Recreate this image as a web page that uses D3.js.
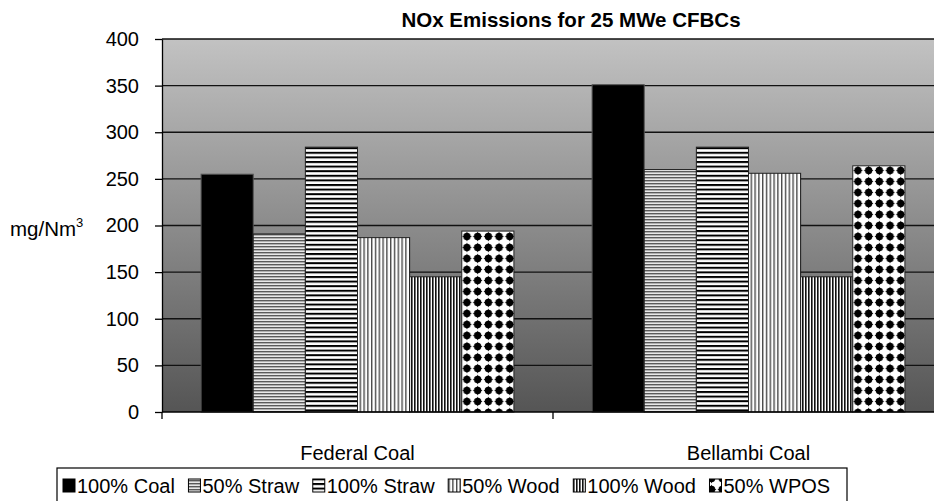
<!DOCTYPE html>
<html><head><meta charset="utf-8">
<script src="https://cdn.jsdelivr.net/npm/d3@7"></script>
<style>body{margin:0;background:#fff;}svg{display:block;font-family:"Liberation Sans",Arial,sans-serif;}</style>
</head><body>
<svg id="chart" width="934" height="501"></svg>
<script>
const categories = ["Federal Coal", "Bellambi Coal"];
const seriesNames = ["100% Coal", "50% Straw", "100% Straw", "50% Wood", "100% Wood", "50% WPOS"];
const federalValues = [255, 191, 284, 187, 145, 194];
const bellambiValues = [351, 260, 284, 256, 145, 264];
const yTicks = [0, 50, 100, 150, 200, 250, 300, 350, 400];
const titleText = "NOx Emissions for 25 MWe CFBCs";

const valuesByCategory = [federalValues, bellambiValues];
const svg = d3.select("#chart");
const margin = {left: 162, right: 944, top: 39, bottom: 412};

const defs = svg.append("defs");
const grad = defs.append("linearGradient").attr("id","bg").attr("x1",0).attr("y1",0).attr("x2",0).attr("y2",1);
grad.append("stop").attr("offset","0%").attr("stop-color","#c2c2c2");
grad.append("stop").attr("offset","100%").attr("stop-color","#555555");

function pat(id, w, h, bg, draw){
  const p = defs.append("pattern").attr("id",id).attr("patternUnits","userSpaceOnUse").attr("width",w).attr("height",h);
  p.append("rect").attr("width",w).attr("height",h).attr("fill",bg);
  if (draw) draw(p);
}
pat("p1", 4, 4, "#000");
pat("p2", 4, 3, "#e8e8e8", p => p.append("rect").attr("y",0).attr("width",4).attr("height",1.4).attr("fill","#5a5a5a"));
pat("p3", 4, 4.6, "#fff", p => p.append("rect").attr("y",0).attr("width",4).attr("height",2).attr("fill","#000"));
pat("p4", 3.8, 4, "#fff", p => p.append("rect").attr("x",0).attr("width",1.4).attr("height",4).attr("fill","#4a4a4a"));
pat("p5", 3, 4, "#fff", p => p.append("rect").attr("x",0).attr("width",1.6).attr("height",4).attr("fill","#111"));
pat("p6", 10.7, 11, "#fff", p => {
  p.append("path").attr("d","M5.35,0.4 Q6.5,4.3 10.2,5.5 Q6.5,6.7 5.35,10.6 Q4.2,6.7 0.5,5.5 Q4.2,4.3 5.35,0.4Z").attr("fill","#000");
  p.append("circle").attr("cx",5.35).attr("cy",5.5).attr("r",3.7).attr("fill","#000");
});
const fills = ["url(#p1)","url(#p2)","url(#p3)","url(#p4)","url(#p5)","url(#p6)"];

const y = d3.scaleLinear().domain([0, 400]).range([margin.bottom, margin.top]);
const x0 = d3.scaleBand().domain(categories).range([margin.left, margin.right]).padding(0);
const x1 = d3.scaleBand().domain(seriesNames).range([0, x0.bandwidth()]).paddingInner(0).paddingOuter(0.75);

svg.append("rect").attr("x", margin.left).attr("y", margin.top)
  .attr("width", margin.right - margin.left).attr("height", margin.bottom - margin.top)
  .attr("fill","url(#bg)");

svg.append("g").selectAll("line").data(yTicks.filter(d=>d>0)).join("line")
  .attr("x1", margin.left).attr("x2", margin.right)
  .attr("y1", d=>y(d)).attr("y2", d=>y(d))
  .attr("stroke","#111").attr("stroke-width",1.3);

const groups = svg.append("g").selectAll("g").data(categories).join("g")
  .attr("transform", d=>`translate(${x0(d)},0)`);
groups.selectAll("rect").data((c,i)=>seriesNames.map((s,j)=>({s, j, v: valuesByCategory[i][j]}))).join("rect")
  .attr("x", d=>x1(d.s)).attr("width", x1.bandwidth())
  .attr("y", d=>y(d.v)).attr("height", d=>y(0)-y(d.v))
  .attr("fill", d=>fills[d.j])
  .attr("stroke", d=>d.j===0 ? "#555" : "#222").attr("stroke-width",1);

const yAxis = svg.append("g").attr("transform",`translate(${margin.left},0)`)
  .call(d3.axisLeft(y).tickValues(yTicks).tickSize(7).tickPadding(16).tickSizeOuter(0));
yAxis.select(".domain").attr("stroke","#000").attr("stroke-width",1.3);
yAxis.selectAll(".tick line").attr("stroke","#000").attr("stroke-width",1.3);
yAxis.selectAll(".tick text").attr("font-size","20px").attr("fill","#000").attr("font-family","Liberation Sans, Arial, sans-serif");

const xAxisG = svg.append("g").attr("transform",`translate(0,${margin.bottom})`);
xAxisG.append("line").attr("x1",margin.left).attr("x2",margin.right).attr("stroke","#000").attr("stroke-width",1.3);
const bounds = [margin.left, ...categories.map(c=>x0(c)+x0.bandwidth())];
xAxisG.selectAll("line.t").data(bounds).join("line").attr("class","t")
  .attr("x1",d=>d).attr("x2",d=>d).attr("y1",0).attr("y2",7).attr("stroke","#000").attr("stroke-width",1.3);
xAxisG.selectAll("text").data(categories).join("text")
  .attr("x", d=>x0(d)+x0.bandwidth()/2).attr("y", 48)
  .attr("text-anchor","middle").attr("font-size","20px").text(d=>d);

svg.append("text").attr("x",571).attr("y",27).attr("text-anchor","middle")
  .attr("font-size","20.5px").attr("font-weight","bold").text(titleText);

const yl = svg.append("text").attr("x",10).attr("y",236).attr("font-size","20.5px");
yl.append("tspan").text("mg/Nm");
yl.append("tspan").attr("font-size","13px").attr("dy",-9).text("3");

const lg = svg.append("g");
lg.append("rect").attr("x",57).attr("y",468).attr("width",790).attr("height",50)
  .attr("fill","#fff").attr("stroke","#000").attr("stroke-width",1.2);
let lx = 63;
seriesNames.forEach((s,j)=>{
  lg.append("rect").attr("x",lx).attr("y",479).attr("width",12).attr("height",13)
    .attr("fill",fills[j]).attr("stroke","#000").attr("stroke-width",1);
  const t = lg.append("text").attr("x",lx+14).attr("y",493).attr("font-size","20px").text(s);
  lx += 14 + t.node().getComputedTextLength() + 13.6;
});
</script>
</body></html>
